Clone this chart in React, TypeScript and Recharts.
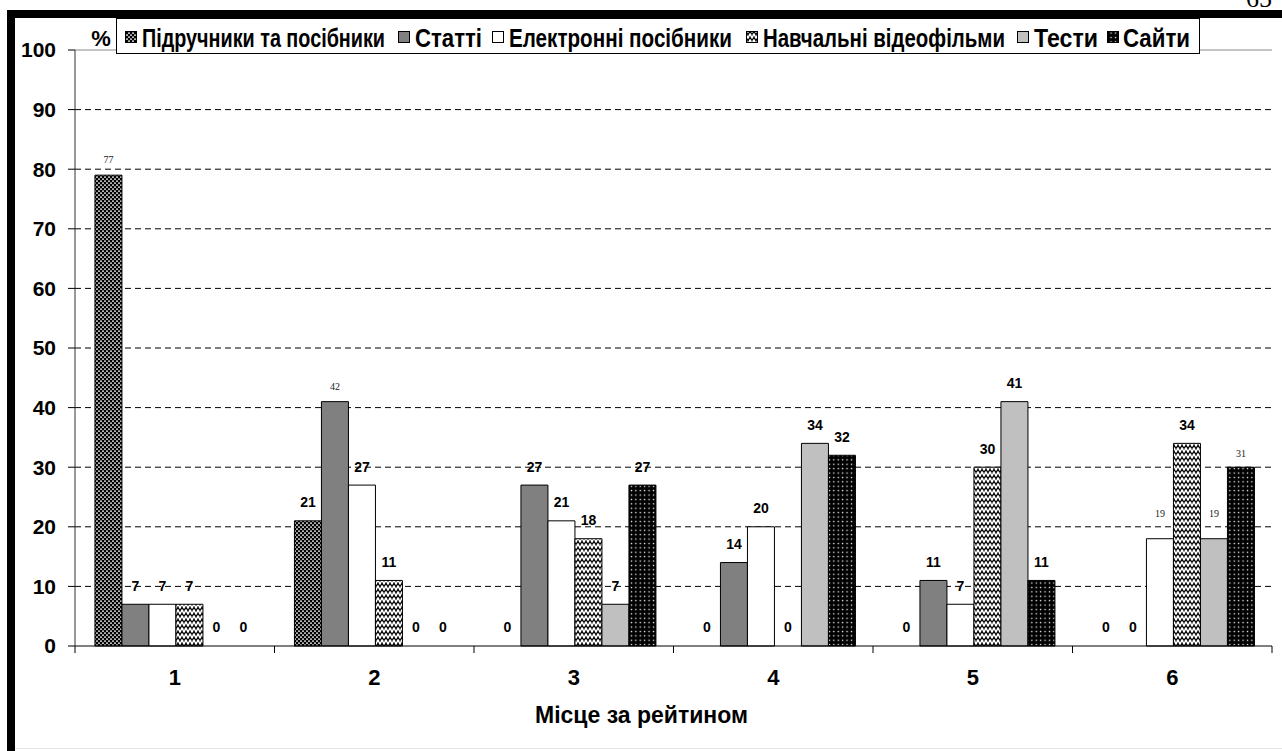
import React from 'react';
import { BarChart, Bar, XAxis, YAxis, CartesianGrid, LabelList, ReferenceLine, Cell } from 'recharts';

// ---------- data ----------
const categories = ['1', '2', '3', '4', '5', '6'];
const seriesNames = [
  'Підручники та посібники',
  'Статті',
  'Електронні посібники',
  'Навчальні відеофільми',
  'Тести',
  'Сайти',
];
const textbooks = [79, 21, 0, 0, 0, 0];
const articles = [7, 41, 27, 14, 11, 0];
const eManuals = [7, 27, 21, 20, 7, 18];
const videos = [7, 11, 18, 0, 30, 34];
const tests = [0, 0, 7, 34, 41, 18];
const sites = [0, 0, 27, 32, 11, 30];

const textbooksLabels = ['77', '21', '0', '0', '0', '0'];
const articlesLabels = ['7', '42', '27', '14', '11', '0'];
const eManualsLabels = ['7', '27', '21', '20', '7', '19'];
const videosLabels = ['7', '11', '18', '0', '30', '34'];
const testsLabels = ['0', '0', '7', '34', '41', '19'];
const sitesLabels = ['0', '0', '27', '32', '11', '31'];

const yTicks = [0, 10, 20, 30, 40, 50, 60, 70, 80, 90, 100];
const xTitle = 'Місце за рейтином';
const yUnit = '%';
const pageNumber = '65';

// ---------- derived ----------
const seriesValues = [textbooks, articles, eManuals, videos, tests, sites];
const seriesLabels = [textbooksLabels, articlesLabels, eManualsLabels, videosLabels, testsLabels, sitesLabels];
const data = categories.map((c, i) => {
  const row: any = { cat: c };
  seriesValues.forEach((s, si) => {
    row['s' + si] = s[i];
    row['l' + si] = seriesLabels[si][i];
  });
  return row;
});

// ---------- styles ----------
const ARIAL = "Arial, 'Liberation Sans', sans-serif";
const TIMES = "'Times New Roman', 'Liberation Serif', serif";
const fills = ['url(#p1)', '#808080', '#ffffff', 'url(#p4)', '#c0c0c0', 'url(#p6)'];
const legendFills = ['url(#lp1)', '#808080', '#ffffff', 'url(#lp4)', '#c0c0c0', 'url(#lp6)'];
// small serif labels: key "series-text" -> baseline distance above bar top
const smallLabelStyle: Record<string, number> = { '0-77': 12.5, '1-42': 11.5, '2-19': 21.5, '4-19': 21.5, '5-31': 10.5 };
const legendLayout = [
  { ix: 125, tx: 142, tw: 243 },
  { ix: 398, tx: 415, tw: 67 },
  { ix: 492, tx: 509, tw: 223 },
  { ix: 746, tx: 763, tw: 242 },
  { ix: 1017, tx: 1034, tw: 64 },
  { ix: 1107, tx: 1123, tw: 67 },
];

const Patterns = ({ prefix }: { prefix: string }) => (
  <defs>
    <pattern id={prefix + 'p1'} width="4" height="4" patternUnits="userSpaceOnUse">
      <rect width="4" height="4" fill="#000" />
      <rect x="0" y="0.5" width="2" height="1.2" fill="#fff" />
      <rect x="2" y="2.5" width="2" height="1.2" fill="#fff" />
    </pattern>
    <pattern id={prefix + 'p4'} width="8" height="6" patternUnits="userSpaceOnUse">
      <rect width="8" height="6" fill="#fff" />
      <path d="M0 4.5 L2 1.5 L4 4.5 L6 1.5 L8 4.5" stroke="#000" strokeWidth="1.3" fill="none" />
      <path d="M2 1.5 L2 0 M6 1.5 L6 0 M0 4.5 L0 6 M4 4.5 L4 6 M8 4.5 L8 6" stroke="#000" strokeWidth="0.7" fill="none" />
    </pattern>
    <pattern id={prefix + 'p6'} width="4.4" height="4.4" patternUnits="userSpaceOnUse">
      <rect width="4.4" height="4.4" fill="#000" />
      <rect x="1.6" y="1.6" width="1.3" height="1.3" fill="#fff" />
    </pattern>
  </defs>
);

const makeLabel = (si: number) => (props: any) => {
  const { x, y, width, height, value } = props;
  const text = String(value);
  const top = Math.min(Number(y), Number(y) + Number(height));
  const cx = Number(x) + Number(width) / 2;
  const small = smallLabelStyle[si + '-' + text];
  if (small !== undefined) {
    return (
      <text x={cx} y={top - small} textAnchor="middle" fontFamily={TIMES} fontSize={10} fill="#222">
        {text}
      </text>
    );
  }
  return (
    <text x={cx} y={top - 13.5} textAnchor="middle" fontFamily={ARIAL} fontWeight="bold" fontSize={14} fill="#000">
      {text}
    </text>
  );
};

const CategoryTick = (props: any) => {
  const { x, y, payload, index } = props;
  const half = payload && payload.offset ? payload.offset : 0;
  const last = index === categories.length - 1;
  return (
    <g>
      <line x1={x - half} x2={x - half} y1={y} y2={y + 7} stroke="#000" />
      {last && <line x1={x + half} x2={x + half} y1={y} y2={y + 7} stroke="#000" />}
      <text x={x} y={y + 39} textAnchor="middle" fontFamily={ARIAL} fontWeight="bold" fontSize={22} fill="#000">
        {payload.value}
      </text>
    </g>
  );
};

export default function App() {
  return (
    <div style={{ position: 'absolute', left: 0, top: 0, width: 1282, height: 751, background: '#fff' }}>
      <BarChart
        width={1282}
        height={751}
        data={data}
        margin={{ top: 50, right: 10, left: 15, bottom: 65 }}
        barCategoryGap="10%"
        barGap={0}
      >
        <Patterns prefix="" />
        <CartesianGrid
          vertical={false}
          horizontalValues={yTicks.filter((t) => t > 0 && t < 100)}
          stroke="#000"
          strokeDasharray="6 4"
        />
        <XAxis
          dataKey="cat"
          tickLine={false}
          tickSize={0}
          tickMargin={0}
          height={40}
          axisLine={{ stroke: '#000' }}
          tick={<CategoryTick />}
          interval={0}
        />
        <YAxis
          domain={[0, 100]}
          ticks={yTicks}
          width={60}
          tickSize={7}
          tickMargin={12}
          interval={0}
          axisLine={{ stroke: '#333' }}
          tickLine={{ stroke: '#000' }}
          tick={{ fontFamily: ARIAL, fontWeight: 'bold', fontSize: 21, fill: '#000' }}
        />
        <YAxis
          yAxisId="r"
          orientation="right"
          domain={[0, 100]}
          width={0}
          tick={false}
          tickLine={false}
          axisLine={{ stroke: '#888' }}
        />
        <ReferenceLine y={100} stroke="#888" />
        {seriesNames.map((name, si) => (
          <Bar
            key={name}
            dataKey={'s' + si}
            name={name}
            fill={fills[si]}
            stroke="#000"
            strokeWidth={1}
            minPointSize={0.01}
            isAnimationActive={false}
          >
            {seriesValues[si].map((v, i) => (
              <Cell key={i} fill={v === 0 ? 'none' : fills[si]} stroke={v === 0 ? 'none' : '#000'} />
            ))}
            <LabelList dataKey={'l' + si} content={makeLabel(si)} />
          </Bar>
        ))}
      </BarChart>

      <svg
        width={1282}
        height={751}
        style={{ position: 'absolute', left: 0, top: 0, pointerEvents: 'none' }}
      >
        <Patterns prefix="l" />
        <text x={1246} y={7} fontFamily={TIMES} fontSize={26} fill="#000">{pageNumber}</text>
        <rect x={7} y={10} width={1275} height={8} fill="#000" />
        <rect x={7} y={10} width={8} height={741} fill="#000" />
        <line x1={15} x2={1282} y1={748.5} y2={748.5} stroke="#e4e4e4" />
        <text x={101} y={46} textAnchor="middle" fontFamily={ARIAL} fontWeight="bold" fontSize={22} fill="#000">
          {yUnit}
        </text>
        <rect x={116.5} y={18.5} width={1083} height={35} fill="#fff" stroke="#000" />
        {seriesNames.map((name, si) => (
          <g key={name}>
            <rect x={legendLayout[si].ix + 0.5} y={31.5} width={11} height={11} fill={legendFills[si]} stroke="#000" />
            <text
              transform={`translate(${legendLayout[si].tx}, 47) scale(1, 1.13)`}
              x={0}
              y={0}
              fontFamily={ARIAL}
              fontWeight="bold"
              fontSize={22}
              textLength={legendLayout[si].tw}
              lengthAdjust="spacingAndGlyphs"
              fill="#000"
            >
              {name}
            </text>
          </g>
        ))}
        <text
          x={535}
          y={723}
          fontFamily={ARIAL}
          fontWeight="bold"
          fontSize={24}
          textLength={213}
          lengthAdjust="spacingAndGlyphs"
          fill="#000"
        >
          {xTitle}
        </text>
      </svg>
    </div>
  );
}
